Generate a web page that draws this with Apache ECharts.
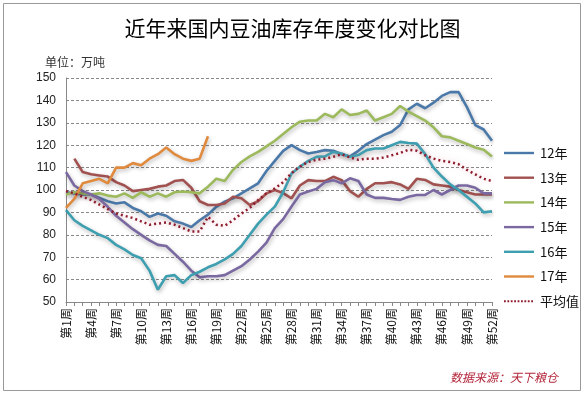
<!DOCTYPE html>
<html><head><meta charset="utf-8">
<script src="https://cdn.jsdelivr.net/npm/echarts@6/dist/echarts.min.js"></script>
<style>html,body{margin:0;padding:0;background:#fff}#c{width:585px;height:394px}</style>
</head><body><div id="c"></div>
<script>
const weeks = Array.from({length:52}, (_, i) => '第' + (i + 1) + '周');
const titleText = '近年来国内豆油库存年度变化对比图';
const unitText = '单位：万吨';
const sourceText = '数据来源：天下粮仓';
const y2012 = [99,98.5,98,98,96.5,95,94,94.5,92,90.5,88,89.5,88.5,86,85,83.5,86.5,89,92.5,94.8,96.3,98.5,100.7,103,108.5,113,117.5,120,117.8,116.3,117,117.8,117.5,116,115,117.5,120.5,122.5,124.5,126,129,136,138.5,136.5,139,142,143.7,143.7,137,129,127,122];
const y2013 = [null,114,108,107,106.5,106,103.5,102,99.5,100,100.5,101.5,102,104,104.5,101,95,93.3,93.3,94,97,96.3,93.3,95,98.5,100,98.6,96.3,102,104.4,104,104,105.9,104.4,99.5,97,100.5,103,103,103.5,102.5,100.5,105,104.5,102.5,102,101.5,100,99,98,98,98];
const y2014 = [98,99,98.5,98,98.5,97.5,97,98.5,96.5,99,97,98.5,97,99,99.3,99,98.5,101.5,105,104,109,112.5,115,117,119.5,122,125,128,130.5,131,131,134,132.5,136,133.5,134,135.5,131,132.5,134,137.5,135,133,131,128,124,123.5,122,120.5,119,118,115];
const y2015 = [108,102,99.5,98,96,92.5,88.5,85.5,82.5,80,77.5,75.5,75,71.5,68,64,61,61.5,61.5,62,64,66,69,72.5,76.5,83,87,92.6,98,99.3,100.5,103.5,104.4,103,105.2,104,98,96.5,96.5,96,95.6,97,97.8,97.8,100,98,100,102,102,101,98.5,98.5];
const y2016 = [91,86.5,84,82,80,78.5,75.5,73.5,71,69.5,64,55.5,61.5,62,58.5,62,63.5,65.5,67,69,71.5,75,80,85,89,92.6,99,107.4,110.4,113,114.8,115,117,116.3,114.8,115.6,117.8,118.5,118.5,120,121.5,121,120.7,116,110,106,102.5,100,97,94,90,90.5];
const y2017 = [92,96,103,104,105,103,110,110,112,111,114,116,119,116,114,113,114,124];
const yAvg = [99.5,98.5,97,95.5,93.5,91.5,89.5,88.5,87.5,86,84.5,85,85.5,84.5,83,81.5,81.5,88,84.5,84,86.5,89.5,92,95.5,98.5,100.7,103.5,107.5,110.5,112.5,113.5,114,114.8,116,114.5,113.5,114,114,114.5,115.5,116.5,118,117.5,115.5,114,113,112.5,111.5,109,107,105,104];
const seriesNames = ['12年','13年','14年','15年','16年','17年','平均值'];
const yTicks = {min:50, max:150, interval:10};

const colors = ['#4a79a9','#a1514f','#9cba5c','#7a68a1','#3d9fb0','#e08a3e','#8e1d2e'];
const datas = [y2012,y2013,y2014,y2015,y2016,y2017,yAvg];
const series = seriesNames.map((n, i) => ({
  name: n, type: 'line', data: datas[i], symbol: 'none', showSymbol: false, connectNulls: false,
  lineStyle: i === 6
    ? {color: colors[i], width: 2.5, type: [2, 3], shadowColor: 'rgba(225,120,140,0.55)', shadowBlur: 6}
    : {color: colors[i], width: 2.6, shadowColor: 'rgba(0,0,0,0.28)', shadowBlur: 4, shadowOffsetY: 2, shadowOffsetX: 1},
  itemStyle: {color: colors[i]},
  z: i === 6 ? 10 : 2 + i
}));

const solidIcon = 'path://M0,0 M30,14 M0,5.8 L30,5.8 L30,8.2 L0,8.2 Z';
let dotted = 'path://M0,0 M30,14';
for (let x = 0; x < 30; x += 3.4) dotted += ' M' + x + ',6 L' + (x + 1.8) + ',6 L' + (x + 1.8) + ',8 L' + x + ',8 Z';
const legendData = seriesNames.map((n, i) => ({name: n, icon: i === 6 ? dotted : solidIcon}));

const chart = echarts.init(document.getElementById('c'), null, {renderer: 'canvas'});
chart.setOption({
  animation: false,
  backgroundColor: '#fff',
  title: [
    {text: titleText, left: 'center', top: 13, textStyle: {fontSize: 21, fontWeight: 'normal', color: '#000', fontFamily: 'Noto Sans CJK SC'}},
    {text: unitText, left: 40, top: 51, textStyle: {fontSize: 12, fontWeight: 'normal', color: '#333', fontFamily: 'Noto Sans CJK SC'}}
  ],
  grid: {left: 66, right: 93, top: 78, bottom: 92, containLabel: false},
  legend: {
    orient: 'vertical', left: 499, top: 141, itemWidth: 30, itemHeight: 14, itemGap: 10.7,
    textStyle: {fontSize: 13, color: '#111', fontFamily: 'Noto Sans CJK SC', padding: [0, 0, 0, 1]},
    data: legendData
  },
  xAxis: {
    type: 'category', data: weeks, boundaryGap: false,
    axisLine: {lineStyle: {color: '#888', width: 1}},
    axisTick: {show: true, interval: 0, length: 4, lineStyle: {color: '#888'}},
    axisLabel: {interval: 2, rotate: 90, fontSize: 12, color: '#111', margin: 6, fontFamily: 'Noto Sans CJK SC'},
    splitLine: {show: false}
  },
  yAxis: {
    type: 'value', min: yTicks.min, max: yTicks.max, interval: yTicks.interval,
    axisLine: {show: true, lineStyle: {color: '#888'}},
    axisTick: {show: false},
    axisLabel: {fontSize: 12, color: '#222', margin: 10, fontFamily: 'Liberation Sans'},
    splitLine: {lineStyle: {color: '#888', type: [3, 2], width: 1}}
  },
  series: series,
  graphic: [
    {type: 'rect', shape: {x: 3.5, y: 3.5, width: 577, height: 387}, style: {fill: 'none', stroke: '#9a9a9a', lineWidth: 1}, silent: true},
    {type: 'text', left: 450, top: 371, style: {text: sourceText, fill: '#b3263a', font: 'italic 12px "Noto Sans CJK SC"'}}
  ]
});
</script></body></html>
